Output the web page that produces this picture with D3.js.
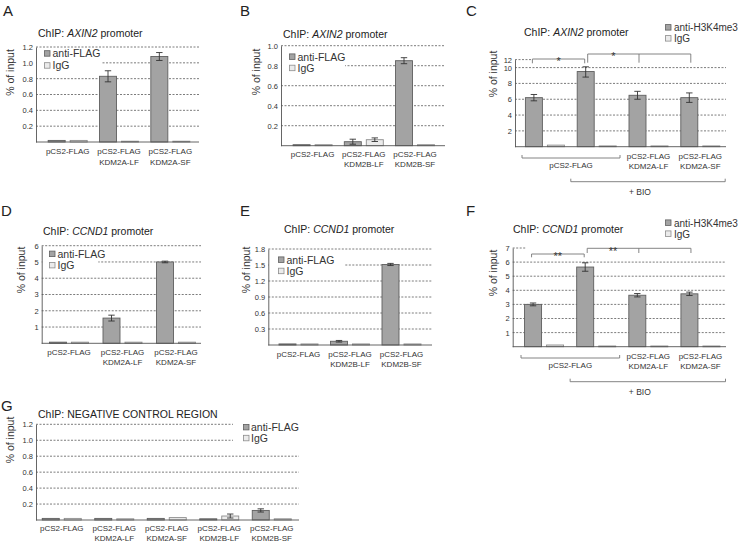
<!DOCTYPE html>
<html><head><meta charset="utf-8">
<script src="https://cdn.jsdelivr.net/npm/d3@7"></script>
<style>body{margin:0;background:#fff}svg{display:block;font-family:"Liberation Sans",Arial,sans-serif}</style>
</head><body>
<svg id="c" width="740" height="542"></svg>
<script>
// ---------- DATA ----------
// Panel A
const catsA = [["pCS2-FLAG"], ["pCS2-FLAG", "KDM2A-LF"], ["pCS2-FLAG", "KDM2A-SF"]];
const antiA = [0.02, 0.83, 1.08];
const antiErrA = [0, 0.07, 0.05];
const iggA = [0.02, 0.01, 0.01];
const iggErrA = [0, 0, 0];
const ticksA = [0.2, 0.4, 0.6, 0.8, 1.0, 1.2];
// Panel B
const catsB = [["pCS2-FLAG"], ["pCS2-FLAG", "KDM2B-LF"], ["pCS2-FLAG", "KDM2B-SF"]];
const antiB = [0.01, 0.04, 0.85];
const antiErrB = [0, 0.025, 0.03];
const iggB = [0.01, 0.06, 0.01];
const iggErrB = [0, 0.018, 0];
const ticksB = [0.2, 0.4, 0.6, 0.8, 1.0];
// Panel C
const catsC = [[], [], ["pCS2-FLAG", "KDM2A-LF"], ["pCS2-FLAG", "KDM2A-SF"]];
const antiC = [6.2, 9.5, 6.5, 6.2];
const antiErrC = [0.4, 0.7, 0.5, 0.6];
const iggC = [0.2, 0.1, 0.1, 0.1];
const iggErrC = [0, 0, 0, 0];
const ticksC = [2, 4, 6, 8, 10, 12];
const sigC = ["*", "*"];
// Panel D
const catsD = [["pCS2-FLAG"], ["pCS2-FLAG", "KDM2A-LF"], ["pCS2-FLAG", "KDM2A-SF"]];
const antiD = [0.07, 1.55, 5.0];
const antiErrD = [0, 0.18, 0.05];
const iggD = [0.07, 0.07, 0.07];
const iggErrD = [0, 0, 0];
const ticksD = [1, 2, 3, 4, 5, 6];
// Panel E
const catsE = [["pCS2-FLAG"], ["pCS2-FLAG", "KDM2B-LF"], ["pCS2-FLAG", "KDM2B-SF"]];
const antiE = [0.02, 0.07, 1.51];
const antiErrE = [0, 0.015, 0.02];
const iggE = [0.02, 0.02, 0.02];
const iggErrE = [0, 0, 0];
const ticksE = [0.3, 0.6, 0.9, 1.2, 1.5, 1.8];
// Panel F
const catsF = [[], [], ["pCS2-FLAG", "KDM2A-LF"], ["pCS2-FLAG", "KDM2A-SF"]];
const antiF = [3.0, 5.65, 3.65, 3.75];
const antiErrF = [0.1, 0.3, 0.12, 0.12];
const iggF = [0.12, 0.05, 0.05, 0.05];
const iggErrF = [0, 0, 0, 0];
const ticksF = [1, 2, 3, 4, 5, 6, 7];
const sigF = ["**", "**"];
// Panel G
const catsG = [["pCS2-FLAG"], ["pCS2-FLAG", "KDM2A-LF"], ["pCS2-FLAG", "KDM2A-SF"], ["pCS2-FLAG", "KDM2B-LF"], ["pCS2-FLAG", "KDM2B-SF"]];
const antiG = [0.02, 0.02, 0.02, 0.015, 0.12];
const antiErrG = [0, 0, 0, 0, 0.02];
const iggG = [0.02, 0.015, 0.03, 0.05, 0.015];
const iggErrG = [0, 0, 0, 0.025, 0];
const ticksG = [0.2, 0.4, 0.6, 0.8, 1.0, 1.2];

const legendFlag = ["anti-FLAG", "IgG"];
const legendH3 = ["anti-H3K4me3", "IgG"];
const sharedLabel = "pCS2-FLAG";
const bioLabel = "+ BIO";
const yLabel = "% of input";

// ---------- DRAW ----------
const svg = d3.select("#c");
const FILL_A = "#a3a3a3", STROKE_A = "#5f5f5f", FILL_I = "#ebebeb", STROKE_I = "#8c8c8c";

function panel(c) {
  const g = svg.append("g");
  const x = d3.scaleBand().domain(d3.range(c.cats.length)).range(c.band);
  const y = d3.scaleLinear().domain(c.yDomain).range(c.yRange);
  const bw = 17, off = 11;
  const cx = i => x(i) + x.bandwidth() / 2;

  // grid lines
  g.selectAll(".grid").data(c.ticks).join("line")
    .attr("x1", c.x0).attr("x2", t => (c.shortTop && t === c.ticks[c.ticks.length - 1]) ? c.x0 + c.shortTop : c.x1)
    .attr("y1", t => y(t)).attr("y2", t => y(t))
    .attr("stroke", "#5a5a5a").attr("stroke-width", 0.8).attr("stroke-dasharray", "2,1.5");

  // legend background
  if (c.legBg) g.append("rect").attr("x", c.legBg[0]).attr("y", c.legBg[1]).attr("width", c.legBg[2]).attr("height", c.legBg[3]).attr("fill", "#fff");

  // legend
  c.legend.forEach((t, i) => {
    const by = c.leg[2] + i * c.leg[3];
    g.append("rect").attr("x", c.leg[0]).attr("y", by - 6.6).attr("width", 5.5).attr("height", 5.5)
      .attr("fill", i === 0 ? FILL_A : FILL_I).attr("stroke", i === 0 ? STROKE_A : STROKE_I).attr("stroke-width", 0.8);
    g.append("text").attr("x", c.leg[1]).attr("y", by).attr("font-size", c.legFont || 10.5).attr("fill", "#333").text(t);
  });

  // bars
  const series = [
    { vals: c.anti, errs: c.antiErr, dx: -off, fill: FILL_A, stroke: STROKE_A },
    { vals: c.igg, errs: c.iggErr, dx: off, fill: FILL_I, stroke: STROKE_I }
  ];
  series.forEach(s => {
    g.selectAll(null).data(s.vals).join("rect")
      .attr("x", (d, i) => cx(i) + s.dx - bw / 2).attr("width", bw)
      .attr("y", d => y(d)).attr("height", d => Math.max(0.8, y(0) - y(d)))
      .attr("fill", s.fill).attr("stroke", s.stroke).attr("stroke-width", 0.9);
    s.vals.forEach((v, i) => {
      const e = s.errs[i];
      if (!e) return;
      const xx = cx(i) + s.dx;
      g.append("path").attr("d", `M${xx},${y(v - e)}V${y(v + e)}M${xx - 3.2},${y(v - e)}H${xx + 3.2}M${xx - 3.2},${y(v + e)}H${xx + 3.2}`)
        .attr("stroke", "#333").attr("stroke-width", 0.9).attr("fill", "none");
    });
  });

  // y axis
  const ax = g.append("g").attr("transform", `translate(${c.x0},0)`)
    .call(d3.axisLeft(y).tickValues(c.ticks).tickSize(0).tickPadding(3).tickFormat(c.fmt));
  ax.select(".domain").attr("stroke", "#555").attr("stroke-width", 0.9);
  ax.selectAll("text").attr("font-size", 7.5).attr("fill", "#333").attr("font-family", "Liberation Sans, Arial, sans-serif");
  // x axis line
  g.append("line").attr("x1", c.x0).attr("x2", c.x1).attr("y1", y(0)).attr("y2", y(0)).attr("stroke", "#555").attr("stroke-width", 0.9);

  // x labels
  c.cats.forEach((lines, i) => {
    lines.forEach((t, k) => {
      g.append("text").attr("x", cx(i)).attr("y", y(0) + c.xlab + k * c.xlabDy)
        .attr("text-anchor", "middle").attr("font-size", 8).attr("fill", "#333").text(t);
    });
  });

  // title
  const tt = g.append("text").attr("x", c.title[0]).attr("y", c.title[1]).attr("font-size", 10.5).attr("fill", "#222");
  c.titleParts.forEach((p, i) => tt.append("tspan").attr("font-style", i === 1 ? "italic" : "normal").text(p));

  // letter
  g.append("text").attr("x", c.letterPos[0]).attr("y", c.letterPos[1]).attr("font-size", 15).attr("fill", "#222").text(c.letter);

  // y label
  g.append("text").attr("transform", `translate(${c.ylab[0]},${c.ylab[1]}) rotate(-90)`)
    .attr("text-anchor", "middle").attr("dominant-baseline", "central").attr("font-size", 10.5).attr("fill", "#333").text(yLabel);

  // BIO panels: shared brackets + significance
  if (c.bio) {
    const b = c.bio;
    const br = (x1, x2, yy, up) => g.append("path")
      .attr("d", `M${x1},${yy - up}V${yy}H${x2}V${yy - up}`).attr("fill", "none").attr("stroke", "#777").attr("stroke-width", 0.9);
    const p1 = x(0) + 3, p2 = x(1) + x.bandwidth() - 2.6;
    br(p1, p2, b.pY, 3);
    g.append("text").attr("x", (p1 + p2) / 2).attr("y", b.pY + 10).attr("text-anchor", "middle").attr("font-size", 8).attr("fill", "#333").text(sharedLabel);
    const q1 = x(1), q2 = x(3) + x.bandwidth() - 1;
    br(q1, q2, b.bY, 3);
    g.append("text").attr("x", (q1 + q2) / 2 - 8).attr("y", b.bY + 13.5).attr("text-anchor", "middle").attr("font-size", 8.5).attr("fill", "#333").text(bioLabel);

    const ac = i => cx(i) - off;
    const s1 = ac(0) - 1.5, s2 = ac(1) - 1;
    g.append("path").attr("d", `M${s1},${b.s1Y + b.s1D}V${b.s1Y}H${s2}V${b.s1Y + b.s1D}`).attr("fill", "none").attr("stroke", "#777").attr("stroke-width", 0.9);
    g.append("text").attr("x", (s1 + s2) / 2).attr("y", b.s1Y + 6.3).attr("text-anchor", "middle").attr("font-size", 11).attr("fill", "#333").text(c.sig[0]);
    const t1 = ac(1) + 2, tm = ac(2) + 1.5, t2 = ac(3) + 1.5;
    g.append("path").attr("d", `M${t1},${b.s2Y + b.s2D}V${b.s2Y}H${t2}V${b.s2Y + b.s2D}M${tm},${b.s2Y}V${b.s2Y + b.s2D}`).attr("fill", "none").attr("stroke", "#777").attr("stroke-width", 0.9);
    g.append("text").attr("x", (t1 + tm) / 2).attr("y", b.s2Y + 6.3).attr("text-anchor", "middle").attr("font-size", 11).attr("fill", "#333").text(c.sig[1]);
  }
}

const f1 = d3.format(".1f"), f0 = d3.format("d");

panel({ letter: "A", letterPos: [3, 16], titleParts: ["ChIP: ", "AXIN2", " promoter"], title: [38, 37.3],
  cats: catsA, anti: antiA, antiErr: antiErrA, igg: iggA, iggErr: iggErrA, ticks: ticksA, fmt: f1,
  x0: 36, x1: 199, band: [42, 196], yDomain: [0, 1.2], yRange: [142, 47],
  legend: legendFlag, leg: [44.5, 52.5, 57.3, 12], legBg: [36.6, 49, 65, 24],
  xlab: 11.6, xlabDy: 11.4, ylab: [10, 72.5] });

panel({ letter: "B", letterPos: [240, 16], titleParts: ["ChIP: ", "AXIN2", " promoter"], title: [283, 38.3],
  cats: catsB, anti: antiB, antiErr: antiErrB, igg: iggB, iggErr: iggErrB, ticks: ticksB, fmt: f1,
  x0: 281, x1: 445, band: [287, 440.6], yDomain: [0, 1.0], yRange: [145.7, 45.7],
  legend: legendFlag, leg: [289.5, 297.5, 60.5, 11.3], legBg: [281.6, 52, 63.5, 23],
  xlab: 11, xlabDy: 10, ylab: [256, 72] });

panel({ letter: "C", letterPos: [466, 16], titleParts: ["ChIP: ", "AXIN2", " promoter"], title: [524, 36],
  cats: catsC, anti: antiC, antiErr: antiErrC, igg: iggC, iggErr: iggErrC, ticks: ticksC, fmt: f0,
  x0: 515, x1: 726, band: [519, 726.2], yDomain: [0, 10, 12], yRange: [146.7, 67.6, 59.6], shortTop: 17,
  legend: legendH3, leg: [665.5, 674, 31.2, 11], legFont: 10,
  xlab: 12.3, xlabDy: 10, ylab: [493, 74],
  sig: sigC, bio: { pY: 158, bY: 181.7, s1Y: 59, s1D: 4.3, s2Y: 54, s2D: 8.7 } });

panel({ letter: "D", letterPos: [1, 216], titleParts: ["ChIP: ", "CCND1", " promoter"], title: [43, 235],
  cats: catsD, anti: antiD, antiErr: antiErrD, igg: iggD, iggErr: iggErrD, ticks: ticksD, fmt: f0,
  x0: 41.7, x1: 201, band: [42.25, 202.75], yDomain: [0, 6], yRange: [343.3, 245.7],
  legend: legendFlag, leg: [49.5, 57.5, 257.7, 11.3], legBg: [42.3, 250, 56, 23],
  xlab: 11.7, xlabDy: 10, ylab: [21, 270] });

panel({ letter: "E", letterPos: [240, 216], titleParts: ["ChIP: ", "CCND1", " promoter"], title: [284, 233.3],
  cats: catsE, anti: antiE, antiErr: antiErrE, igg: iggE, iggErr: iggErrE, ticks: ticksE, fmt: f1,
  x0: 268.3, x1: 432, band: [272.75, 427.25], yDomain: [0, 1.8], yRange: [345, 249],
  legend: legendFlag, leg: [278.5, 286.5, 263.5, 11.3], legBg: [268.9, 256, 76, 22],
  xlab: 11.7, xlabDy: 10, ylab: [246, 270] });

panel({ letter: "F", letterPos: [466, 216], titleParts: ["ChIP: ", "CCND1", " promoter"], title: [513, 233.3],
  cats: catsF, anti: antiF, antiErr: antiErrF, igg: iggF, iggErr: iggErrF, ticks: ticksF, fmt: f0,
  x0: 512.7, x1: 726, band: [518, 726.5], yDomain: [0, 7], yRange: [346.7, 248], shortTop: 14,
  legend: legendH3, leg: [665.5, 674, 226.5, 11], legFont: 10,
  xlab: 12.3, xlabDy: 10, ylab: [493, 273],
  sig: sigF, bio: { pY: 358, bY: 381.7, s1Y: 254, s1D: 3.3, s2Y: 248.3, s2D: 4.7 } });

panel({ letter: "G", letterPos: [1, 411], titleParts: ["ChIP: NEGATIVE CONTROL REGION"], title: [38, 417.7],
  cats: catsG, anti: antiG, antiErr: antiErrG, igg: iggG, iggErr: iggErrG, ticks: ticksG, fmt: f1,
  x0: 36, x1: 299, band: [35.5, 298], yDomain: [0, 1.2], yRange: [520, 424.3],
  legend: legendFlag, leg: [243.5, 251, 431, 10.9], legBg: [233, 419, 67, 27],
  xlab: 11, xlabDy: 10, ylab: [10, 440] });
</script>
</body></html>
